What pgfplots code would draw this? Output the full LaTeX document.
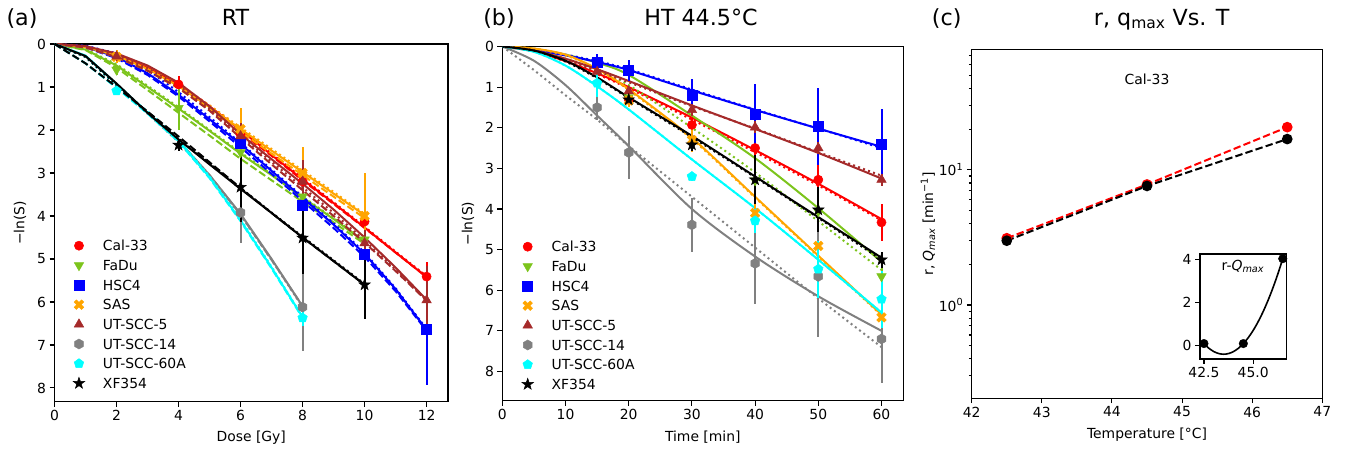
\documentclass[border=0pt]{standalone}
\usepackage{fontspec}
\setmainfont{DejaVu Sans}
\usepackage{pgfplots}
\pgfplotsset{compat=1.18}
\usepackage{pgfplotstable}

\definecolor{cRed}{RGB}{255,0,0}
\definecolor{cGreen}{RGB}{124,196,28}
\definecolor{cBlue}{RGB}{0,0,255}
\definecolor{cOrange}{RGB}{255,165,0}
\definecolor{cBrown}{RGB}{165,42,42}
\definecolor{cGray}{RGB}{128,128,128}
\definecolor{cCyan}{RGB}{0,255,255}
\definecolor{cBlack}{RGB}{0,0,0}

\newcommand{\fs}{\fontsize{13.9}{16.7}\selectfont}
\newcommand{\ft}{\fontsize{22.2}{26}\selectfont}

\pgfdeclareplotmark{hexa}{%
  \pgfpathmoveto{\pgfpointpolar{90}{\pgfplotmarksize}}%
  \pgfpathlineto{\pgfpointpolar{150}{\pgfplotmarksize}}%
  \pgfpathlineto{\pgfpointpolar{210}{\pgfplotmarksize}}%
  \pgfpathlineto{\pgfpointpolar{270}{\pgfplotmarksize}}%
  \pgfpathlineto{\pgfpointpolar{330}{\pgfplotmarksize}}%
  \pgfpathlineto{\pgfpointpolar{30}{\pgfplotmarksize}}%
  \pgfpathclose\pgfusepathqfillstroke}
\pgfdeclareplotmark{fstar}{%
  \pgfpathmoveto{\pgfpointpolar{90}{\pgfplotmarksize}}%
  \pgfpathlineto{\pgfpointpolar{126}{0.4\pgfplotmarksize}}%
  \pgfpathlineto{\pgfpointpolar{162}{\pgfplotmarksize}}%
  \pgfpathlineto{\pgfpointpolar{198}{0.4\pgfplotmarksize}}%
  \pgfpathlineto{\pgfpointpolar{234}{\pgfplotmarksize}}%
  \pgfpathlineto{\pgfpointpolar{270}{0.4\pgfplotmarksize}}%
  \pgfpathlineto{\pgfpointpolar{306}{\pgfplotmarksize}}%
  \pgfpathlineto{\pgfpointpolar{342}{0.4\pgfplotmarksize}}%
  \pgfpathlineto{\pgfpointpolar{18}{\pgfplotmarksize}}%
  \pgfpathlineto{\pgfpointpolar{54}{0.4\pgfplotmarksize}}%
  \pgfpathclose\pgfusepathqfillstroke}
\pgfdeclareplotmark{Xf}{%
  \pgfpathmoveto{\pgfpoint{-0.495\pgfplotmarksize}{0.919\pgfplotmarksize}}%
  \pgfpathlineto{\pgfpoint{0pt}{0.424\pgfplotmarksize}}%
  \pgfpathlineto{\pgfpoint{0.495\pgfplotmarksize}{0.919\pgfplotmarksize}}%
  \pgfpathlineto{\pgfpoint{0.919\pgfplotmarksize}{0.495\pgfplotmarksize}}%
  \pgfpathlineto{\pgfpoint{0.424\pgfplotmarksize}{0pt}}%
  \pgfpathlineto{\pgfpoint{0.919\pgfplotmarksize}{-0.495\pgfplotmarksize}}%
  \pgfpathlineto{\pgfpoint{0.495\pgfplotmarksize}{-0.919\pgfplotmarksize}}%
  \pgfpathlineto{\pgfpoint{0pt}{-0.424\pgfplotmarksize}}%
  \pgfpathlineto{\pgfpoint{-0.495\pgfplotmarksize}{-0.919\pgfplotmarksize}}%
  \pgfpathlineto{\pgfpoint{-0.919\pgfplotmarksize}{-0.495\pgfplotmarksize}}%
  \pgfpathlineto{\pgfpoint{-0.424\pgfplotmarksize}{0pt}}%
  \pgfpathlineto{\pgfpoint{-0.919\pgfplotmarksize}{0.495\pgfplotmarksize}}%
  \pgfpathclose\pgfusepathqfillstroke}

\pgfplotsset{
  myaxis/.style={
    scale only axis, anchor=south west,
    axis line style={line width=1.1pt},
    tick style={line width=1.1pt, black},
    tick align=outside, major tick length=4.9pt, minor tick length=2.8pt,
    tick pos=left,
    tick label style={font=\fs},
    label style={font=\fs},
    /pgf/number format/assume math mode=true,
  },
  mylegend/.style={legend cell align=left,
    legend style={draw=none, fill=none, inner sep=0pt, outer sep=0pt, font=\fs,
      row sep=9.46pt, nodes={inner sep=0pt, text height=10.2pt, text depth=0pt},
      at={(axis description cs:#1)}, anchor=north west}},
  fitS/.style={line width=2pt, no markers, forget plot},
  fitD/.style={line width=2pt, no markers, forget plot, dash pattern=on 7.4pt off 3.2pt},
  fitP/.style={line width=2pt, no markers, forget plot, dash pattern=on 2pt off 3.3pt},
  pts/.style={only marks, color=#1, mark options={solid, fill=#1, draw=#1, line width=0.5pt},
    /pgfplots/error bars/y dir=both, /pgfplots/error bars/y explicit,
    /pgfplots/error bars/error mark=none,
    /pgfplots/error bars/error bar style={line width=2pt, color=#1, solid},
    legend image code/.code={\path[draw=none,fill=none] (0pt,-5.1pt) rectangle (34pt,5.1pt); \draw[##1, only marks, overlay] plot coordinates {(10pt,0pt)};}},
}

% ---------- panel (a): RT ----------
\pgfplotstableread{
D S d P
0 0 0 0
1 0.06 0.07 0.05
2 0.25 0.28 0.22
3 0.55 0.60 0.52
4 0.95 1.00 0.93
5 1.45 1.50 1.43
6 2.00 2.05 1.98
7 2.58 2.60 2.55
8 3.15 3.17 3.12
9 3.70 3.72 3.68
10 4.27 4.28 4.25
11 4.85 4.85 4.83
12 5.42 5.42 5.40
}\aCal
\pgfplotstableread{
D S d P
0 0 0 0
1 0.13 0.14 0.12
2 0.50 0.55 0.47
3 1.00 1.07 0.97
4 1.50 1.60 1.47
5 2.02 2.13 2.00
6 2.55 2.67 2.52
7 3.05 3.17 3.03
8 3.57 3.67 3.55
9 4.07 4.15 4.05
10 4.60 4.65 4.58
}\aFaDu
\pgfplotstableread{
D S d P
0 0 0 0
1 0.07 0.08 0.04
2 0.30 0.33 0.22
3 0.68 0.72 0.60
4 1.18 1.22 1.12
5 1.75 1.80 1.70
6 2.33 2.40 2.30
7 2.95 3.02 2.92
8 3.58 3.65 3.55
9 4.20 4.28 4.17
10 4.88 4.95 4.85
11 5.70 5.75 5.68
12 6.65 6.67 6.63
}\aHSC
\pgfplotstableread{
D S d P
0 0 0 0
1 0.07 0.08 0.06
2 0.27 0.30 0.25
3 0.58 0.62 0.55
4 0.98 1.03 0.95
5 1.47 1.52 1.43
6 1.98 2.04 1.94
7 2.48 2.55 2.44
8 2.98 3.05 2.94
9 3.48 3.55 3.44
10 3.98 4.05 3.95
}\aSAS
\pgfplotstableread{
D S d P
0 0 0 0
1 0.05 0.08 0.06
2 0.22 0.30 0.26
3 0.50 0.62 0.56
4 0.90 1.02 0.96
5 1.45 1.55 1.50
6 2.10 2.18 2.13
7 2.68 2.80 2.74
8 3.25 3.40 3.33
9 3.85 4.00 3.93
10 4.50 4.62 4.57
11 5.20 5.28 5.25
12 5.95 5.97 5.96
}\aUTv
\pgfplotstableread{
D S d P
0 0 0 0
1 0.28 0.45 0.30
2 0.92 1.00 0.95
3 1.60 1.60 1.62
4 2.25 2.25 2.28
5 3.05 3.05 3.08
6 3.95 3.97 3.98
7 5.00 5.02 5.02
8 6.10 6.10 6.12
}\aUTxiv
\pgfplotstableread{
D S d P
0 0 0 0
1 0.27 0.45 0.30
2 0.93 1.02 0.97
3 1.60 1.62 1.57
4 2.25 2.27 2.22
5 3.10 3.12 3.08
6 4.10 4.12 4.08
7 5.20 5.22 5.18
8 6.35 6.37 6.35
}\aUTlx
\pgfplotstableread{
D S d P
0 0 0 0
1 0.28 0.45 0.30
2 0.92 1.00 0.95
3 1.60 1.57 1.60
4 2.22 2.15 2.20
5 2.80 2.75 2.78
6 3.37 3.35 3.35
7 3.93 3.93 3.92
8 4.50 4.50 4.48
9 5.05 5.05 5.03
10 5.60 5.60 5.58
}\aXF

% ---------- panel (b): HT ----------
\pgfplotstableread{
t S P
0 0 0
5 0.12 0.12
10 0.36 0.36
15 0.66 0.68
20 1.00 1.03
30 1.75 1.80
40 2.55 2.60
50 3.38 3.42
60 4.25 4.28
}\bCal
\pgfplotstableread{
t S P
0 0 0
5 0.06 0.08
10 0.20 0.30
15 0.40 0.60
20 0.70 0.95
30 1.70 2.00
40 2.75 3.10
50 3.98 4.30
60 5.30 5.50
}\bFaDu
\pgfplotstableread{
t S P
0 0 0
5 0.08 0.06
10 0.22 0.20
15 0.38 0.36
20 0.58 0.56
30 1.08 1.06
40 1.56 1.55
50 2.02 2.02
60 2.47 2.50
}\bHSC
\pgfplotstableread{
t S P
0 0 0
5 0.05 0.05
10 0.20 0.22
15 0.55 0.56
20 1.05 1.07
30 2.25 2.28
40 3.70 3.72
50 5.15 5.17
60 6.60 6.62
}\bSAS
\pgfplotstableread{
t S P
0 0 0
5 0.10 0.12
10 0.30 0.34
15 0.56 0.60
20 0.85 0.88
30 1.45 1.47
40 2.03 2.02
50 2.62 2.60
60 3.25 3.18
}\bUTv
\pgfplotstableread{
t S P
0 0 0
5 0.35 0.58
10 0.95 1.20
15 1.70 1.80
20 2.45 2.45
30 4.00 3.70
40 5.17 4.95
50 6.15 6.20
60 7.00 7.40
}\bUTxiv
\pgfplotstableread{
t S P
0 0 0
5 0.13 0.13
10 0.47 0.47
15 0.98 0.98
20 1.55 1.55
30 2.78 2.78
40 3.98 3.98
50 5.25 5.25
60 6.55 6.55
}\bUTlx
\pgfplotstableread{
t S P
0 0 0
5 0.10 0.10
10 0.35 0.37
15 0.76 0.78
20 1.25 1.27
30 2.20 2.23
40 3.20 3.22
50 4.20 4.22
60 5.20 5.25
}\bXF

% ---------- panel (c) ----------
\pgfplotstableread{
T r
42.5 3.12
44.5 7.80
46.5 20.7
}\cRed
\pgfplotstableread{
T q
42.5 2.99
44.5 7.60
46.5 16.9
}\cBlk
\pgfplotstableread{
T d
42.5 0.07
44.5 0.07
46.5 4.05
}\cDiff
\pgfplotstableread{
T f
42.5 0.068
42.75 -0.150
43.0 -0.306
43.25 -0.399
43.5 -0.430
43.75 -0.399
44.0 -0.306
44.25 -0.150
44.5 0.068
44.75 0.347
45.0 0.689
45.25 1.094
45.5 1.560
45.75 2.089
46.0 2.679
46.25 3.332
46.5 4.048
}\cFit

\begin{document}
\begin{tikzpicture}
\path[use as bounding box] (0,0) rectangle (1345pt,452pt);

\node[anchor=base, font=\ft] at (22pt,426.5pt) {(a)};
\node[anchor=base, font=\ft] at (235.5pt,426.5pt) {RT};
\node[anchor=base, font=\ft] at (499pt,426.5pt) {(b)};
\node[anchor=base, font=\ft] at (701pt,426.5pt) {HT 44.5°C};
\node[anchor=base, font=\ft] at (946.7pt,426.5pt) {(c)};
\node[anchor=base, font=\ft] at (1161.7pt,426.5pt) {r, q\textsubscript{max} Vs. T};

%================ (a) =================
\begin{axis}[myaxis, at={(54.5pt,50.3pt)}, width=393.5pt, height=357.7pt,
  xmin=0, xmax=12.69, ymin=0, ymax=8.32, y dir=reverse,
  xtick={0,2,...,12}, ytick={0,...,8},
  xlabel={Dose [Gy]}, ylabel={−ln(S)},
  xlabel style={at={(axis description cs:0.5,-0.1015)}, anchor=center},
  ylabel style={at={(axis description cs:-0.0877,0.5)}, anchor=center},
  mylegend={0.0368,0.4504}]
\addplot[fitS,cRed] table[x=D,y=S]{\aCal};
\addplot[fitD,cRed] table[x=D,y=d]{\aCal};
\addplot[fitP,cRed] table[x=D,y=P]{\aCal};
\addplot[fitS,cGreen] table[x=D,y=S]{\aFaDu};
\addplot[fitD,cGreen] table[x=D,y=d]{\aFaDu};
\addplot[fitP,cGreen] table[x=D,y=P]{\aFaDu};
\addplot[fitS,cBlue] table[x=D,y=S]{\aHSC};
\addplot[fitD,cBlue] table[x=D,y=d]{\aHSC};
\addplot[fitP,cBlue] table[x=D,y=P]{\aHSC};
\addplot[fitS,cOrange] table[x=D,y=S]{\aSAS};
\addplot[fitD,cOrange] table[x=D,y=d]{\aSAS};
\addplot[fitP,cOrange] table[x=D,y=P]{\aSAS};
\addplot[fitS,cBrown] table[x=D,y=S]{\aUTv};
\addplot[fitD,cBrown] table[x=D,y=d]{\aUTv};
\addplot[fitP,cBrown] table[x=D,y=P]{\aUTv};
\addplot[fitS,cGray] table[x=D,y=S]{\aUTxiv};
\addplot[fitD,cGray] table[x=D,y=d]{\aUTxiv};
\addplot[fitP,cGray] table[x=D,y=P]{\aUTxiv};
\addplot[fitS,cCyan] table[x=D,y=S]{\aUTlx};
\addplot[fitD,cCyan] table[x=D,y=d]{\aUTlx};
\addplot[fitP,cCyan] table[x=D,y=P]{\aUTlx};
\addplot[fitS,cBlack] table[x=D,y=S]{\aXF};
\addplot[fitD,cBlack] table[x=D,y=d]{\aXF};
\addplot[fitP,cBlack] table[x=D,y=P]{\aXF};

\addplot[pts=cRed, mark=*, mark size=4.6pt] coordinates {
 (4,0.94) +- (0,0.2) (6,2.10) +- (0,0.3)
 (8,3.20) +- (0,0.35) (10,4.13) +- (0,0.3) (12,5.41) +- (0,0.35)};
\addlegendentry{Cal-33}
\addplot[pts=cGreen, mark=triangle*, mark size=5.5pt, mark options={rotate=180}] coordinates {
 (2,0.60) +- (0,0.12) (4,1.49) +- (0,0.5) (6,2.52) +- (0,0.3)
 (8,3.55) +- (0,0.3) (10,4.55) += (0,0.3) -= (0,1.55)};
\addlegendentry{FaDu}
\addplot[pts=cBlue, mark=square*, mark size=5pt] coordinates {
 (6,2.31) +- (0,0.3)
 (8,3.76) +- (0,0.4) (10,4.88) +- (0,0.3) (12,6.64) +- (0,1.28)};
\addlegendentry{HSC4}
\addplot[pts=cOrange, mark=Xf, mark size=5.2pt] coordinates {
 (2,0.30) +- (0,0.15) (6,1.98) +- (0,0.5)
 (8,3.00) +- (0,0.6) (10,4.00) += (0,0.55) -= (0,1.0)};
\addlegendentry{SAS}
\addplot[pts=cBrown, mark=triangle*, mark size=5.5pt] coordinates {
 (2,0.29) +- (0,0.1) (6,2.14) +- (0,0.3)
 (8,3.20) +- (0,0.5) (10,4.63) +- (0,0.3) (12,5.96) +- (0,0.8)};
\addlegendentry{UT-SCC-5}
\addplot[pts=cGray, mark=hexa, mark size=5pt] coordinates {
 (6,3.92) +- (0,0.7) (8,6.12) +- (0,1.03)};
\addlegendentry{UT-SCC-14}
\addplot[pts=cCyan, mark=pentagon*, mark size=5pt] coordinates {
 (2,1.09) +- (0,0.1) (8,6.37) +- (0,0.2)};
\addlegendentry{UT-SCC-60A}
\addplot[pts=cBlack, mark=fstar, mark size=6pt] coordinates {
 (4,2.35) +- (0,0.15) (6,3.33) +- (0,0.8)
 (8,4.51) +- (0,0.85) (10,5.60) +- (0,0.8)};
\addlegendentry{XF354}
\end{axis}

%================ (b) =================
\begin{axis}[myaxis, at={(502.3pt,51.3pt)}, width=401pt, height=354.2pt,
  xmin=0, xmax=63.45, ymin=0, ymax=8.72, y dir=reverse,
  xtick={0,10,...,60}, ytick={0,...,8},
  xlabel={Time [min]}, ylabel={−ln(S)},
  xlabel style={at={(axis description cs:0.5,-0.1016)}, anchor=center},
  ylabel style={at={(axis description cs:-0.0855,0.5)}, anchor=center},
  mylegend={0.0384,0.4492}]
\addplot[fitS,cRed,smooth] table[x=t,y=S]{\bCal};
\addplot[fitP,cRed,smooth] table[x=t,y=P]{\bCal};
\addplot[fitS,cGreen,smooth] table[x=t,y=S]{\bFaDu};
\addplot[fitP,cGreen,smooth] table[x=t,y=P]{\bFaDu};
\addplot[fitS,cBlue,smooth] table[x=t,y=S]{\bHSC};
\addplot[fitP,cBlue,smooth] table[x=t,y=P]{\bHSC};
\addplot[fitS,cOrange,smooth] table[x=t,y=S]{\bSAS};
\addplot[fitP,cOrange,smooth] table[x=t,y=P]{\bSAS};
\addplot[fitS,cBrown,smooth] table[x=t,y=S]{\bUTv};
\addplot[fitP,cBrown,smooth] table[x=t,y=P]{\bUTv};
\addplot[fitS,cGray,smooth] table[x=t,y=S]{\bUTxiv};
\addplot[fitP,cGray,smooth] table[x=t,y=P]{\bUTxiv};
\addplot[fitS,cCyan,smooth] table[x=t,y=S]{\bUTlx};
\addplot[fitP,cCyan,smooth] table[x=t,y=P]{\bUTlx};
\addplot[fitS,cBlack,smooth] table[x=t,y=S]{\bXF};
\addplot[fitP,cBlack,smooth] table[x=t,y=P]{\bXF};

\addplot[pts=cRed, mark=*, mark size=4.6pt] coordinates {
 (20,1.30) +- (0,0.1) (30,1.93) +- (0,0.2) (40,2.50) +- (0,0.3)
 (50,3.28) +- (0,0.4) (60,4.33) +- (0,0.45)};
\addlegendentry{Cal-33}
\addplot[pts=cGreen, mark=triangle*, mark size=5.5pt, mark options={rotate=180}] coordinates {
 (20,1.25) +- (0,0.1) (40,3.30) +- (0,0.3)
 (50,4.06) +- (0,0.3) (60,5.66) +- (0,0.3)};
\addlegendentry{FaDu}
\addplot[pts=cBlue, mark=square*, mark size=5pt] coordinates {
 (15,0.38) +- (0,0.2) (20,0.59) +- (0,0.25) (30,1.19) +- (0,0.4)
 (40,1.68) +- (0,0.75) (50,1.97) +- (0,0.95) (60,2.40) +- (0,0.85)};
\addlegendentry{HSC4}
\addplot[pts=cOrange, mark=Xf, mark size=5.2pt] coordinates {
 (20,1.33) +- (0,0.15) (30,2.30) +- (0,0.3) (40,4.10) +- (0,0.3)
 (50,4.91) +- (0,0.15) (60,6.67) +- (0,0.15)};
\addlegendentry{SAS}
\addplot[pts=cBrown, mark=triangle*, mark size=5.5pt] coordinates {
 (15,0.62) +- (0,0.1) (20,1.10) +- (0,0.1) (30,1.56) +- (0,0.15)
 (40,1.99) +- (0,0.15) (50,2.50) +- (0,0.15) (60,3.28) +- (0,0.15)};
\addlegendentry{UT-SCC-5}
\addplot[pts=cGray, mark=hexa, mark size=5pt] coordinates {
 (15,1.50) +- (0,0.3) (20,2.61) +- (0,0.65) (30,4.39) +- (0,0.66)
 (40,5.34) +- (0,1.0) (50,5.66) +- (0,1.5) (60,7.20) +- (0,1.08)};
\addlegendentry{UT-SCC-14}
\addplot[pts=cCyan, mark=pentagon*, mark size=5pt] coordinates {
 (15,0.90) +- (0,0.35) (30,3.20) +- (0,0.1)
 (40,4.29) +- (0,0.3) (50,5.48) +- (0,0.7) (60,6.22) +- (0,0.7)};
\addlegendentry{UT-SCC-60A}
\addplot[pts=cBlack, mark=fstar, mark size=6pt] coordinates {
 (20,1.31) +- (0,0.1) (30,2.42) +- (0,0.15) (40,3.28) +- (0,0.6)
 (50,4.02) +- (0,0.55) (60,5.25) +- (0,0.2)};
\addlegendentry{XF354}
\end{axis}

%================ (c) =================
\begin{axis}[myaxis, at={(971.7pt,53.7pt)}, width=350.6pt, height=349pt,
  xmin=42, xmax=47, ymode=log, ymin=0.204, ymax=78,
  xtick={42,...,47}, ytick={1,10},
  yticklabels={10\textsuperscript{0},10\textsuperscript{1}},
  minor ytick={0.3,0.4,0.5,0.6,0.7,0.8,0.9,2,3,4,5,6,7,8,9,20,30,40,50,60,70},
  xlabel={Temperature [°C]}, ylabel={r, \textit{Q}\textsubscript{\textit{max}} [min\textsuperscript{−1}]},
  xlabel style={at={(axis description cs:0.5,-0.1052)}, anchor=center},
  ylabel style={at={(axis description cs:-0.1246,0.5)}, anchor=center}]
\addplot[cRed, line width=2pt, dash pattern=on 7.4pt off 3.2pt, mark=*, mark size=4.3pt, mark options={solid}] table[x=T,y=r]{\cRed};
\addplot[cBlack, line width=2pt, dash pattern=on 7.4pt off 3.2pt, mark=*, mark size=4.3pt, mark options={solid}] table[x=T,y=q]{\cBlk};
\node[font=\fs] at (axis cs:44.5,47) {Cal-33};
\end{axis}

\begin{axis}[myaxis, at={(1200pt,93pt)}, width=86.7pt, height=105pt,
  axis background/.style={fill=white},
  xmin=42.3, xmax=46.7, ymin=-0.654, ymax=4.27,
  xtick={42.5,45}, xticklabels={42.5,45.0}, ytick={0,2,4}]
\addplot[cBlack, line width=1.6pt, smooth] table[x=T,y=f]{\cFit};
\addplot[only marks, cBlack, mark=*, mark size=4.3pt] table[x=T,y=d]{\cDiff};
\node[font=\fs] at (rel axis cs:0.496,0.879) {r-\textit{Q}\textsubscript{\textit{max}}};
\end{axis}
\end{tikzpicture}
\end{document}
